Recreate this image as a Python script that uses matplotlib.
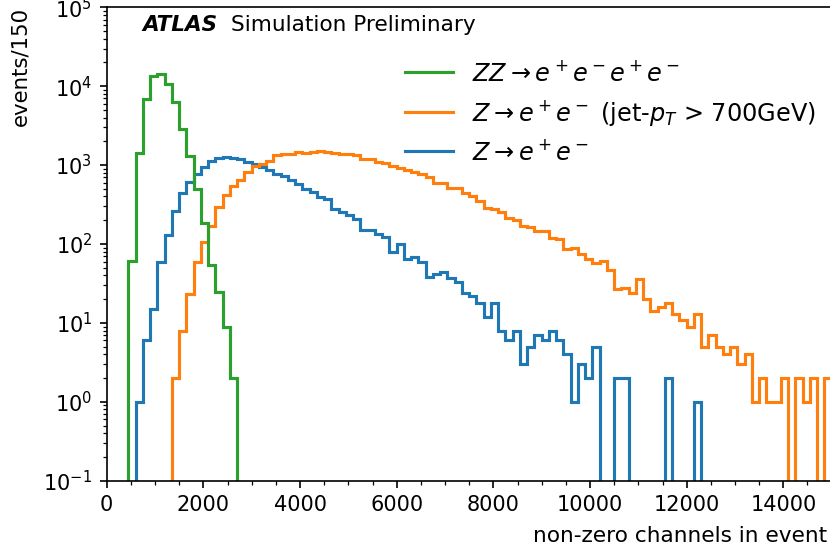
import numpy as np
import matplotlib
matplotlib.use("Agg")
import matplotlib.pyplot as plt
from matplotlib.lines import Line2D
from matplotlib.ticker import AutoMinorLocator

# bin edges: 0..15000 in steps of 150
bin_edges = np.arange(0, 15001, 150)

# counts per bin, 100 bins each
z_ee = [0, 0, 0, 0, 1, 6, 15, 59, 129, 263,
        437, 604, 771, 945, 1115, 1230, 1265, 1230, 1183, 1094,
        1030, 935, 870, 771, 734, 647, 571, 498, 460, 391,
        375, 275, 257, 233, 206, 150, 150, 134, 122, 80,
        99, 64, 69, 60, 38, 42, 44, 37, 33, 24,
        22, 18, 12, 18, 8, 6, 8, 3, 5, 7,
        6, 8, 6, 4, 1, 3, 2, 5, 0, 0,
        2, 2, 0, 0, 0, 0, 0, 2, 0, 0,
        0, 1, 0, 0, 0, 0, 0, 0, 0, 0,
        0, 0, 0, 0, 0, 0, 0, 0, 0, 0]

z_ee_jet = [0, 0, 0, 0, 0, 0, 0, 0, 0, 2,
            8, 23, 59, 107, 171, 296, 412, 537, 652, 820,
            980, 1030, 1115, 1330, 1370, 1380, 1466, 1420, 1466, 1493,
            1466, 1420, 1396, 1396, 1330, 1206, 1206, 1081, 1050, 982,
            927, 875, 817, 762, 715, 585, 585, 517, 517, 440,
            406, 354, 288, 280, 252, 215, 201, 169, 164, 147,
            147, 118, 115, 86, 90, 75, 65, 58, 61, 47,
            27, 28, 24, 36, 20, 14, 16, 18, 13, 11,
            9, 13, 5, 7, 5, 4, 5, 3, 4, 1,
            2, 1, 1, 2, 0, 2, 1, 2, 0, 2]

zz_4e = [0, 0, 0, 61, 1410, 6840, 13400, 14200, 10800, 6260,
         2870, 1290, 492, 185, 54, 25, 9, 2, 0, 0] + [0] * 80

labels = [r'$ZZ\rightarrow e^+e^-e^+e^-$',
          r'$Z\rightarrow e^+e^-$ (jet-$p_T$ > 700GeV)',
          r'$Z\rightarrow e^+e^-$']

fig = plt.figure(figsize=(830 / 150, 556 / 150), dpi=150)
ax = fig.add_axes([0.1286, 0.1354, 0.8734, 0.8515])

ax.stairs(z_ee, bin_edges, color='C0', linewidth=1.5)
ax.stairs(z_ee_jet, bin_edges, color='C1', linewidth=1.5)
ax.stairs(zz_4e, bin_edges, color='C2', linewidth=1.5)

ax.set_yscale('log')
ax.set_ylim(1e-1, 1e5)
ax.set_xlim(0, 15000)
ax.xaxis.set_minor_locator(AutoMinorLocator(4))

ax.set_xlabel('non-zero channels in event', loc='right', fontsize=10.4, labelpad=5)
ax.xaxis.label.set_x(0.9935)
ax.set_ylabel('events/150', loc='top', fontsize=10.2, labelpad=6)

ax.text(0.049, 0.962, 'ATLAS', transform=ax.transAxes, fontsize=10.3,
        fontweight='bold', fontstyle='italic', va='center')
ax.text(0.172, 0.962, 'Simulation Preliminary', transform=ax.transAxes,
        fontsize=10.4, va='center')

handles = [Line2D([], [], color='C2', lw=1.5),
           Line2D([], [], color='C1', lw=1.5),
           Line2D([], [], color='C0', lw=1.5)]
ax.legend(handles, labels, loc='upper left', bbox_to_anchor=(0.382, 0.933),
          frameon=False, fontsize=11.5)

fig.savefig('out.png', dpi=150)
